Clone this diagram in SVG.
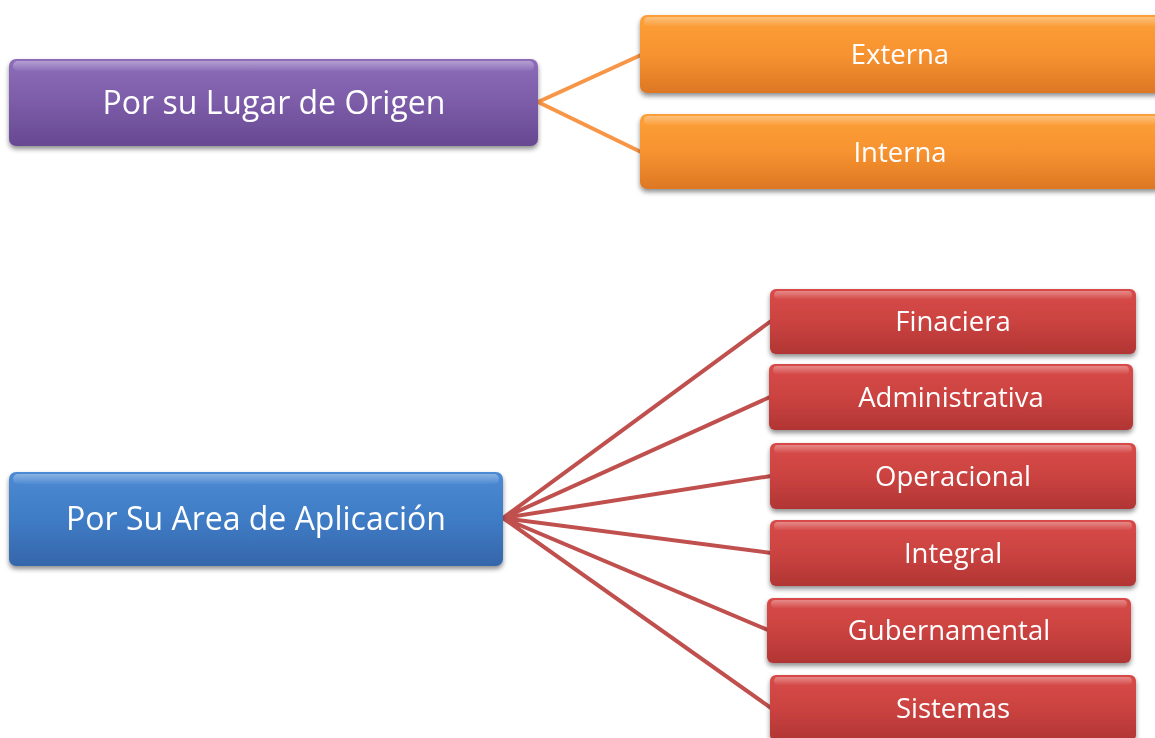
<svg xmlns="http://www.w3.org/2000/svg" width="1155" height="738" viewBox="0 0 1155 738">
<defs>
<style>
.t{font-family:"Open Sans","Noto Sans","Liberation Sans",sans-serif;fill:#ffffff;text-anchor:middle;dominant-baseline:central}
.big{font-size:32px}
.sm{font-size:27.5px}
.box{filter:url(#sh)}
.gl{fill:url(#gloss)}
.c-or{stroke:#f79646;stroke-width:4;fill:none}
.c-rd{stroke:#c0504d;stroke-width:4;fill:none}
</style>
<filter id="sh" x="-5%" y="-20%" width="110%" height="150%">
<feGaussianBlur in="SourceAlpha" stdDeviation="2.5"/>
<feOffset dx="0" dy="3" result="b"/>
<feComponentTransfer><feFuncA type="linear" slope="0.45"/></feComponentTransfer>
<feMerge><feMergeNode/><feMergeNode in="SourceGraphic"/></feMerge>
</filter>
<linearGradient id="gP" x1="0" y1="0" x2="0" y2="1"><stop offset="0" stop-color="#8d6dba"/><stop offset="0.5" stop-color="#7c5ca8"/><stop offset="1" stop-color="#674891"/></linearGradient>
<linearGradient id="gB" x1="0" y1="0" x2="0" y2="1"><stop offset="0" stop-color="#4d8ad4"/><stop offset="0.5" stop-color="#3f7cc6"/><stop offset="1" stop-color="#3566aa"/></linearGradient>
<linearGradient id="gO" x1="0" y1="0" x2="0" y2="1"><stop offset="0" stop-color="#fda038"/><stop offset="0.5" stop-color="#f79330"/><stop offset="1" stop-color="#dd7724"/></linearGradient>
<linearGradient id="gR" x1="0" y1="0" x2="0" y2="1"><stop offset="0" stop-color="#d84a48"/><stop offset="0.5" stop-color="#cb4341"/><stop offset="1" stop-color="#b13533"/></linearGradient>
<linearGradient id="gloss" x1="0" y1="0" x2="0" y2="1"><stop offset="0" stop-color="#ffffff" stop-opacity="0.35"/><stop offset="1" stop-color="#ffffff" stop-opacity="0.03"/></linearGradient>
</defs>
<rect width="1155" height="738" fill="#ffffff"/>
<g id="connectors">
<path class="c-or" d="M538,102 L641,55 M538,102 L641,152"/>
<path class="c-rd" d="M503,518 L771,321 M503,518 L770,397 M503,518 L771,476 M503,518 L771,553 M503,518 L768,630 M503,518 L771,708"/>
</g>
<g id="n-origen" class="box">
<rect x="9" y="59" width="529" height="87" rx="7" fill="url(#gP)"/>
<rect x="13" y="61" width="521" height="10" rx="5" class="gl"/>
<text class="t big" x="274" y="101">Por su Lugar de Origen</text>
</g>
<g id="n-externa" class="box">
<rect x="640" y="15" width="530" height="78" rx="7" fill="url(#gO)"/>
<rect x="644" y="17" width="520" height="9" rx="4" class="gl"/>
<text class="t sm" x="900" y="53">Externa</text>
</g>
<g id="n-interna" class="box">
<rect x="640" y="114" width="530" height="75" rx="7" fill="url(#gO)"/>
<rect x="644" y="116" width="520" height="9" rx="4" class="gl"/>
<text class="t sm" x="900" y="151">Interna</text>
</g>
<g id="n-area" class="box">
<rect x="9" y="472" width="494" height="94" rx="7" fill="url(#gB)"/>
<rect x="13" y="474" width="486" height="10" rx="5" class="gl"/>
<text class="t big" x="256" y="517">Por Su Area de Aplicación</text>
</g>
<g id="n-finaciera" class="box">
<rect x="770" y="289" width="366" height="65" rx="6" fill="url(#gR)"/>
<rect x="774" y="291" width="358" height="8" rx="4" class="gl"/>
<text class="t sm" x="953" y="320">Finaciera</text>
</g>
<g id="n-administrativa" class="box">
<rect x="769" y="364" width="364" height="66" rx="6" fill="url(#gR)"/>
<rect x="773" y="366" width="356" height="8" rx="4" class="gl"/>
<text class="t sm" x="951" y="396">Administrativa</text>
</g>
<g id="n-operacional" class="box">
<rect x="770" y="443" width="366" height="66" rx="6" fill="url(#gR)"/>
<rect x="774" y="445" width="358" height="8" rx="4" class="gl"/>
<text class="t sm" x="953" y="475">Operacional</text>
</g>
<g id="n-integral" class="box">
<rect x="770" y="520" width="366" height="66" rx="6" fill="url(#gR)"/>
<rect x="774" y="522" width="358" height="8" rx="4" class="gl"/>
<text class="t sm" x="953" y="552">Integral</text>
</g>
<g id="n-gubernamental" class="box">
<rect x="767" y="598" width="364" height="65" rx="6" fill="url(#gR)"/>
<rect x="771" y="600" width="356" height="8" rx="4" class="gl"/>
<text class="t sm" x="949" y="629">Gubernamental</text>
</g>
<g id="n-sistemas" class="box">
<rect x="770" y="675" width="366" height="66" rx="6" fill="url(#gR)"/>
<rect x="774" y="677" width="358" height="8" rx="4" class="gl"/>
<text class="t sm" x="953" y="707">Sistemas</text>
</g>
</svg>
